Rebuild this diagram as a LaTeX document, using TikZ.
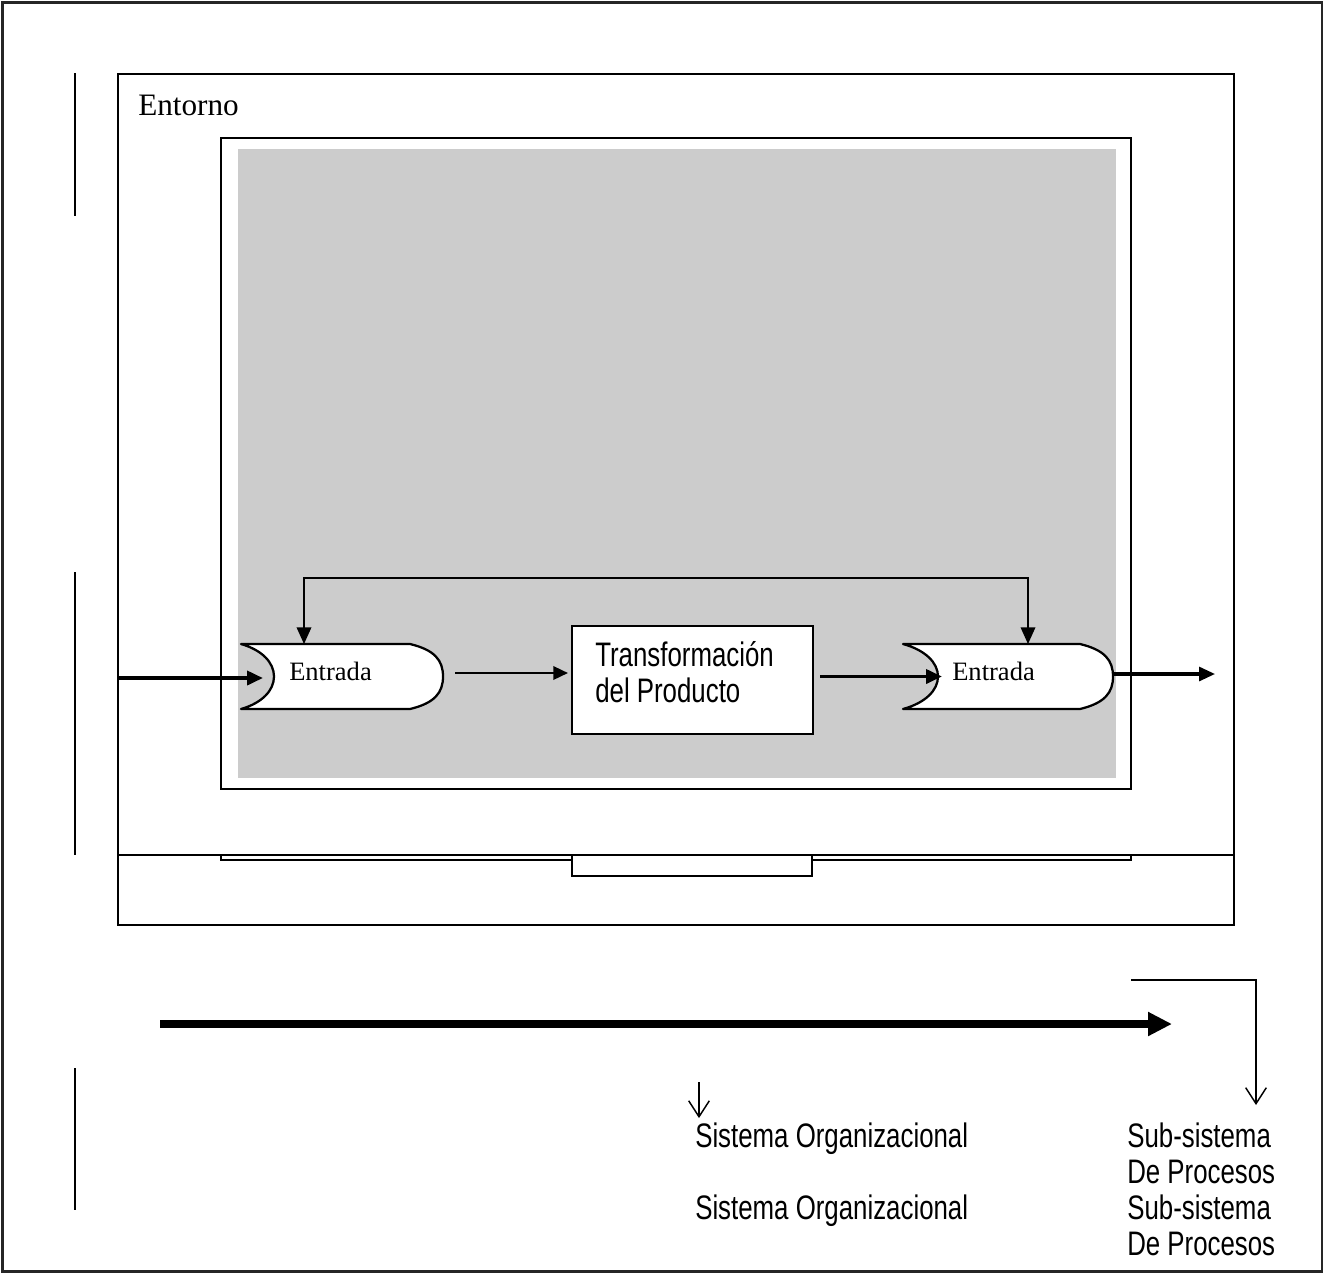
\documentclass[tikz,border=0pt]{standalone}
\usepackage{fontspec}
\setmainfont{Liberation Serif}
\newfontfamily\narrowsans{Liberation Sans}[FakeStretch=0.76]
\usetikzlibrary{arrows.meta,calc}
\definecolor{panelgray}{HTML}{CCCCCC}

\begin{document}
\begin{tikzpicture}[x=0.75pt,y=-0.75pt,
  frameline/.style={draw=black!85,line width=1.6pt},
  boxline/.style={draw=black,line width=1.7pt},
  sideline/.style={draw=black,line width=1.6pt},
  entradabox/.style={shape=rectangle,inner sep=0pt,outer sep=0pt,minimum height=48.75pt},
  entradaline/.style={draw=black,line width=1.7pt,fill=white,line join=round},
  entradatext/.style={anchor=base west,inner sep=0pt,font=\fontsize{19.9pt}{24pt}\selectfont},
  sanstext/.style={anchor=base west,inner sep=0pt,align=left,
    font=\narrowsans\fontsize{25.5pt}{27pt}\selectfont},
  thickarrow/.style={line width=2.8pt,-{Triangle[length=12pt,width=10.5pt]}},
  midarrow/.style={line width=1.8pt,-{Triangle[length=11pt,width=10pt]}},
  fbarrow/.style={line width=1pt,{Triangle[length=12.5pt,width=11pt]}-{Triangle[length=12.5pt,width=11pt]}},
  bigarrow/.style={line width=6pt,-{Triangle[length=18pt,width=17pt]}},
  barbarrow/.style={line width=1.1pt,-{Straight Barb[length=12pt,width=15.5pt]}}
]
\useasboundingbox (0,0) rectangle (1327,1274);

% outer page frame
\draw[frameline] (2.5,2.5) rectangle (1322,1271.5);

% vertical margin rules
\draw[sideline] (75,73) -- (75,216);
\draw[sideline] (75,572) -- (75,855);
\draw[sideline] (75,1068) -- (75,1210);

% environment box with its lower band
\draw[boxline] (118,74) rectangle (1234,925);
\draw[boxline] (118,855) -- (1234,855);
\draw[boxline] (221,855) rectangle (1131,860);
\draw[boxline,fill=white] (572,855) rectangle (812,876);
\node[anchor=base west,inner sep=0pt,font=\fontsize{23.4pt}{28pt}\selectfont] (entorno) at (138,115) {Entorno};

% system frame and shaded panel
\draw[boxline,fill=white] (221,138) rectangle (1131,789);
\fill[panelgray] (238,149) rectangle (1116,778);

% input / output stages
\node[entradabox,minimum width=151.5pt] (e1) at (342,676.5) {};
\node[entradabox,minimum width=157.5pt] (e2) at (1008,676.5) {};

\path[entradaline] (e1.north west) -- ($(e1.north east)+(-33,0)$)
  .. controls +(25,6) and +(0,-16) .. (e1.east)
  .. controls +(0,16) and +(25,-6) .. ($(e1.south east)+(-33,0)$)
  -- (e1.south west)
  .. controls +(21,-6) and +(0,14) .. ($(e1.west)+(33,0)$)
  .. controls +(0,-14) and +(21,6) .. (e1.north west) -- cycle;

\path[entradaline] (e2.north west) -- ($(e2.north east)+(-33,0)$)
  .. controls +(25,6) and +(0,-16) .. (e2.east)
  .. controls +(0,16) and +(25,-6) .. ($(e2.south east)+(-33,0)$)
  -- (e2.south west)
  .. controls +(22,-6) and +(0,14) .. ($(e2.west)+(35,0)$)
  .. controls +(0,-14) and +(22,6) .. (e2.north west) -- cycle;

\node[entradatext] (e1text) at (289,680) {Entrada};
\node[entradatext] (e2text) at (952,680) {Entrada};

% transformation box (multi-line labels are placed by their last baseline)
\node[draw=black,line width=1.7pt,fill=white,inner sep=0pt,outer sep=0pt,
  minimum width=180.75pt,minimum height=81pt] (t) at (692.5,680) {};
\node[sanstext] (ttext) at (595,702) {Transformación\\del Producto};

% feedback loop
\coordinate (fbL) at (304,578);
\coordinate (fbR) at (1028,578);
\draw[fbarrow] (e1.north -| fbL) -- (fbL) -- (fbR) -- (e2.north -| fbR);

% flow arrows
\coordinate (inL) at (118,678);
\coordinate (outR) at (1215,674);
\draw[thickarrow] (inL) -- ($(e1.west)+(22,1.5)$);
\draw[midarrow] ($(e1.east)+(12,-3.5)$) -- ($(t.west |- e1.east)+(-4,-3.5)$);
\draw[thickarrow] ($(t.east |- e2.west)+(7,0)$) -- ($(e2.west)+(39,0)$);
\draw[line width=2.3pt,-{Triangle[length=12pt,width=10.5pt]}] ($(e2.east)+(0,-2.5)$) -- (outR);

% lower band: direction arrow and labels
\coordinate (bigS) at (160,1024);
\coordinate (bigE) at (1172,1024);
\draw[bigarrow] (bigS) -- (bigE);

\node[sanstext] (so1) at (695,1147) {Sistema Organizacional};
\node[sanstext] (so2) at (695,1219) {Sistema Organizacional};
\node[sanstext] (sp1) at (1127,1183) {Sub-sistema\\De Procesos};
\node[sanstext] (sp2) at (1127,1255) {Sub-sistema\\De Procesos};

\coordinate (soA) at (699,1082);
\draw[barbarrow] (soA) -- ($(so1.north west -| soA)+(0,-4)$);
\coordinate (spA) at (1131,980);
\coordinate (spC) at (1256,980);
\draw[barbarrow] (spA) -- (spC) -- (spC |- 0,1105);
\end{tikzpicture}
\end{document}
